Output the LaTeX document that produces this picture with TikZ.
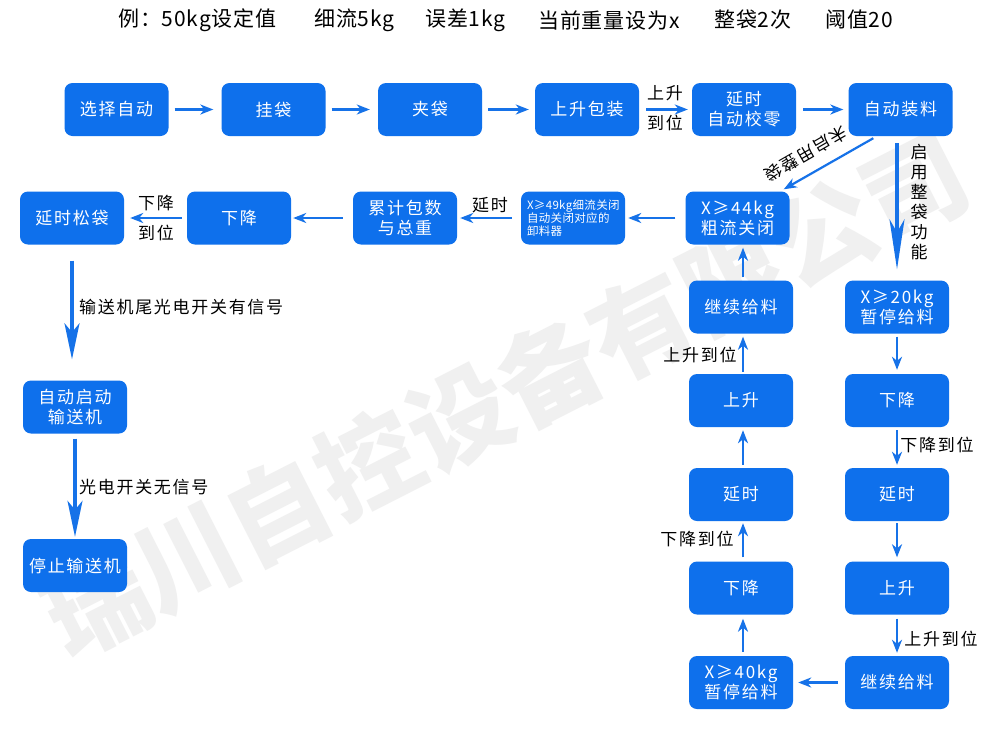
\documentclass[tikz,border=0pt]{standalone}
\usepackage{fontspec}
\setmainfont{Noto Sans CJK SC}
\newfontfamily\cjk{Noto Sans CJK SC}
\newfontfamily\cjkls[LetterSpace=10]{Noto Sans CJK SC}
\newfontfamily\cjkti[LetterSpace=4]{Noto Sans CJK SC}
\newfontfamily\cjksm[LetterSpace=3]{Noto Sans CJK SC}
\usetikzlibrary{arrows.meta,calc}
\definecolor{boxblue}{RGB}{14,112,236}
\definecolor{arrblue}{RGB}{22,114,232}
\begin{document}
\begin{tikzpicture}[x=1pt,y=-1pt,
  proc/.style={fill=boxblue, rounded corners=8pt, minimum width=104pt, minimum height=53pt, inner sep=0pt, text=white, font=\cjkls\fontsize{17}{20}\selectfont, align=center},
  conn/.style={draw=arrblue, line width=2.2pt, -{Stealth[length=13pt,width=10pt,inset=4pt]}},
  bigconn/.style={draw=arrblue, line width=3.2pt, -{Stealth[length=36pt,width=15pt,inset=9pt]}},
  lbl/.style={text=black, font=\cjkls\fontsize{17}{20}\selectfont, inner sep=0pt, align=center},
  ttl/.style={text=black, font=\cjkti\fontsize{21}{24}\selectfont, inner sep=0pt, anchor=west},
]
\useasboundingbox (0,0) rectangle (1000,731);
\fill[white] (0,0) rectangle (1000,731);
% watermark
\node[text=black!6, font=\cjk\bfseries\fontsize{102}{110}\selectfont, rotate=27, inner sep=0pt] (wm) at (505,395) {瑞川自控设备有限公司};
% title
\node[ttl] (t1) at (118,20) {例：50kg设定值};
\node[ttl] (t2) at (314,20) {细流5kg};
\node[ttl] (t3) at (425,20) {误差1kg};
\node[ttl] (t4) at (538,20) {当前重量设为x};
\node[ttl] (t5) at (714,20) {整袋2次};
\node[ttl] (t6) at (825,20) {阈值20};
% top row
\node[proc] (n1) at (116.5,109.5) {选择自动};
\node[proc] (n2) at (273.5,109.5) {挂袋};
\node[proc] (n3) at (430,109.5) {夹袋};
\node[proc] (n4) at (587,109.5) {上升包装};
\node[proc] (n5) at (744,109.5) {延时\\自动校零};
\node[proc] (n6) at (900.5,109.5) {自动装料};
% second row
\node[proc] (m44) at (737.5,218) {X≥44kg\\粗流关闭};
\node[proc, text width=92pt, align=left, font=\cjksm\fontsize{11.5}{13}\selectfont] (m49) at (573,218) {X≥49kg细流关闭\\自动关闭对应的\\卸料器};
\node[proc] (mlj) at (405,218) {累计包数\\与总重};
\node[proc] (mxj) at (239,218) {下降};
\node[proc] (msd) at (72,218) {延时松袋};
% left column
\node[proc] (ls) at (75,407) {自动启动\\输送机};
\node[proc] (lt) at (75,565.5) {停止输送机};
% column A
\node[proc] (a1) at (741,307) {继续给料};
\node[proc] (a2) at (741,400.5) {上升};
\node[proc] (a3) at (741,494.5) {延时};
\node[proc] (a4) at (741,588) {下降};
\node[proc] (a5) at (741,682.5) {X≥40kg\\暂停给料};
% column B
\node[proc] (b1) at (897,307) {X≥20kg\\暂停给料};
\node[proc] (b2) at (897,400.5) {下降};
\node[proc] (b3) at (897,494.5) {延时};
\node[proc] (b4) at (897,588) {上升};
\node[proc] (b5) at (897,682.5) {继续给料};
% top row connectors
\draw[conn, shorten <=6pt, shorten >=8pt] (n1) -- (n2);
\draw[conn, shorten <=6pt, shorten >=8pt] (n2) -- (n3);
\draw[conn, shorten <=6pt, shorten >=6pt] (n3) -- (n4);
\draw[conn, shorten <=7pt, shorten >=4pt] (n4) -- (n5);
\draw[conn, shorten <=7pt, shorten >=5pt] (n5) -- (n6);
\node[lbl] (l1) at (665,93) {上升};
\node[lbl] (l2) at (665,123) {到位};
% diagonal
\draw[conn] ($(n6.south west)+(25,2)$) -- ($(m44.north east)+(-6,-2)$);
\node[lbl, rotate=210] (l3) at (806,154) {未启用整袋};
% big down arrow
\draw[bigconn, -{Stealth[length=50pt,width=15pt,inset=13pt]}] ($(n6.south)+(-3.5,7)$) -- ($(b1.north)+(0,-11)$);
\node[lbl, font=\cjk\fontsize{17}{20}\selectfont] (l4) at (919,202) {启\\用\\整\\袋\\功\\能};
% second row connectors
\draw[conn, shorten <=10pt, shorten >=3pt] (m44) -- (m49);
\draw[conn, shorten <=9pt, shorten >=3pt] (m49) -- (mlj);
\node[lbl] (l5) at (490,205) {延时};
\draw[conn, shorten <=10pt, shorten >=2pt] (mlj) -- (mxj);
\draw[conn, shorten <=5pt, shorten >=6pt] (mxj) -- (msd);
\node[lbl] (l6) at (156,203) {下降};
\node[lbl] (l7) at (156,233) {到位};
% left column connectors
\draw[bigconn, shorten <=16pt, shorten >=21pt] (msd.south) -- (msd.south |- ls.north);
\node[lbl, anchor=west] (l8) at (79,307) {输送机尾光电开关有信号};
\draw[bigconn, shorten <=5pt, shorten >=2pt] (ls.south) -- (ls.south |- lt.north);
\node[lbl, anchor=west] (l9) at (79,487) {光电开关无信号};
% column A connectors (upward)
\draw[conn, shorten <=3pt, shorten >=3pt] ($(a1.north)+(2,0)$) -- ($(a1.north |- m44.south)+(2,0)$);
\draw[conn, shorten <=2pt, shorten >=3pt] ($(a2.north)+(2,0)$) -- ($(a1.south)+(2,0)$);
\draw[conn, shorten <=3pt, shorten >=3pt] ($(a3.north)+(2,0)$) -- ($(a2.south)+(2,0)$);
\draw[conn, shorten <=4pt, shorten >=2pt] ($(a4.north)+(2,0)$) -- ($(a3.south)+(2,0)$);
\draw[conn, shorten <=4pt, shorten >=4pt] ($(a5.north)+(2,0)$) -- ($(a4.south)+(2,0)$);
\node[lbl] (l10) at (700,355) {上升到位};
\node[lbl] (l11) at (697,539) {下降到位};
% column B connectors (downward)
\draw[conn, shorten <=3pt, shorten >=4pt] (b1) -- (b2);
\draw[conn, shorten <=3pt, shorten >=3pt] (b2) -- (b3);
\draw[conn, shorten <=2pt, shorten >=4pt] (b3) -- (b4);
\draw[conn, shorten <=4pt, shorten >=3pt] (b4) -- (b5);
\draw[conn, shorten <=7pt, shorten >=5pt] (b5) -- (a5);
\node[lbl] (l12) at (937,445) {下降到位};
\node[lbl] (l13) at (941,639) {上升到位};
\end{tikzpicture}
\end{document}
